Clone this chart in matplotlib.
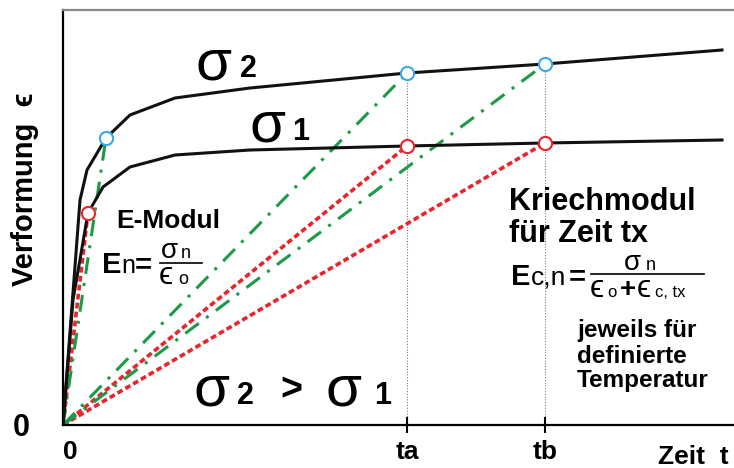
import matplotlib
matplotlib.use("Agg")
import matplotlib.pyplot as plt
from matplotlib.lines import Line2D
from matplotlib.transforms import ScaledTranslation

# strain-time curves (time, strain)
t_sigma2 = [0, 17, 24, 43, 67, 112, 187, 344, 482, 659]
eps_sigma2 = [0, 225, 255, 287, 310, 327, 337, 352, 361, 375]
t_sigma1 = [0, 10, 25, 40, 67, 112, 187, 344, 482, 659]
eps_sigma1 = [0, 125, 212, 238, 258, 270, 275, 279, 282, 285]

# indices of the marked points: elastic point, ta, tb
idx_sigma2 = [3, 7, 8]
idx_sigma1 = [2, 7, 8]
tick_labels = ["0", "ta", "tb"]

SANS = ["Liberation Sans", "DejaVu Sans"]
RED = "#e8242c"
GREEN = "#1c9a45"
BLUE = "#3aa8e4"

W, H = 734, 468
fig = plt.figure(figsize=(W / 100, H / 100), dpi=100)
ax = fig.add_axes([63 / W, 43 / H, 1 - 63 / W, 415 / H])


def txt(x, y, s, size, weight="bold", **kw):
    # place text by pixel position (x, baseline y) of the picture
    fig.text(x / W, 1 - y / H, s, fontsize=size, fontweight=weight,
             family=SANS, va="baseline", **kw)


# secant lines from the origin
for i in idx_sigma1:
    ax.plot([0, t_sigma1[i]], [0, eps_sigma1[i]], color=RED, lw=2.6,
            linestyle=(0, (1.6, 0.9)), zorder=2)
for i in idx_sigma2:
    ax.plot([0, t_sigma2[i]], [0, eps_sigma2[i]], color=GREEN, lw=2.2,
            linestyle=(0, (5.5, 3, 1, 3)), zorder=2)

# vertical helper lines at ta and tb
for i in idx_sigma2[1:]:
    ax.plot([t_sigma2[i], t_sigma2[i]], [0, eps_sigma2[i]], color="#777777",
            lw=0.8, linestyle=(0, (1, 1.5)), zorder=1)

ax.plot(t_sigma2, eps_sigma2, color="#111111", lw=2.2, zorder=3)
ax.plot(t_sigma1, eps_sigma1, color="#111111", lw=2.2, zorder=3)

ax.plot([t_sigma2[i] for i in idx_sigma2], [eps_sigma2[i] for i in idx_sigma2],
        "o", ms=9.5, mfc="white", mec=BLUE, mew=1.5, zorder=4, clip_on=False)
ax.plot([t_sigma1[i] for i in idx_sigma1], [eps_sigma1[i] for i in idx_sigma1],
        "o", ms=9.5, mfc="white", mec=RED, mew=1.5, zorder=4, clip_on=False)

ax.set_xlim(0, W - 63)
ax.set_ylim(0, 415)
ax.spines["right"].set_visible(False)
ax.spines["top"].set_color("#888888")
ax.spines["top"].set_linewidth(1.6)
ax.spines["left"].set_linewidth(1.6)
ax.spines["bottom"].set_linewidth(1.6)

ax.set_xticks([0, t_sigma2[idx_sigma2[1]], t_sigma2[idx_sigma2[2]]])
ax.set_xticklabels(tick_labels, fontsize=19, fontweight="bold", family=SANS)
ax.tick_params(axis="x", direction="inout", length=12, width=1.5, pad=5)
first = ax.xaxis.get_major_ticks()[0]
first.tick1line.set_visible(False)
first.label1.set_transform(first.label1.get_transform()
                           + ScaledTranslation(5 / 72, 0, fig.dpi_scale_trans))
ax.set_yticks([0])
ax.set_yticklabels(["0"], fontsize=22, fontweight="bold", family=SANS)
ax.tick_params(axis="y", length=0, pad=24)

fig.text(25 / W, 1 - 189 / H, "Verformung  \u03f5", rotation=90, ha="center",
         va="center", fontsize=21, fontweight="bold", family=SANS)
txt(729, 464, "Zeit  t", 19, ha="right")

# sigma labels
txt(196, 79, "\u03c3", 42, weight="normal")
txt(240, 77, "2", 22)
txt(250, 141, "\u03c3", 42, weight="normal")
txt(292, 140, "1", 22)
txt(193, 405, "\u03c3", 42, weight="normal")
txt(237, 404, "2", 22)
txt(280, 400, ">", 27)
txt(325, 405, "\u03c3", 42, weight="normal")
txt(374, 404, "1", 22)

# elastic modulus
txt(116, 228, "E-Modul", 19)
txt(102, 273, "E", 21)
txt(121, 273, "n", 18, weight="normal")
txt(135, 273, "=", 21)
txt(161, 258, "\u03c3", 20, weight="normal")
txt(181, 258, "n", 13, weight="normal")
txt(159, 284, "\u03f5", 23, weight="normal")
txt(178, 284, "o", 13, weight="normal")
fig.add_artist(Line2D([160 / W, 202 / W], [1 - 263 / H, 1 - 263 / H],
                      color="black", lw=1.2))

# creep modulus
txt(509, 210, "Kriechmodul", 22)
txt(509, 242, "f\u00fcr Zeit tx", 22)
txt(511, 285, "E", 21)
txt(531, 285, "c,n", 19, weight="normal")
txt(569, 285, "=", 21)
txt(624, 270, "\u03c3", 20, weight="normal")
txt(646, 270, "n", 13, weight="normal")
txt(590, 297, "\u03f5", 23, weight="normal")
txt(607, 297, "o", 12, weight="normal")
txt(620, 297, "+", 20)
txt(637, 297, "\u03f5", 23, weight="normal")
txt(655, 297, "c, tx", 12, weight="normal")
fig.add_artist(Line2D([591 / W, 704 / W], [1 - 274 / H, 1 - 274 / H],
                      color="black", lw=1.2))

txt(577, 337, "jeweils f\u00fcr", 17.5)
txt(577, 363, "definierte", 17.5)
txt(577, 387, "Temperatur", 17.5)

fig.savefig("out.png", dpi=100)
